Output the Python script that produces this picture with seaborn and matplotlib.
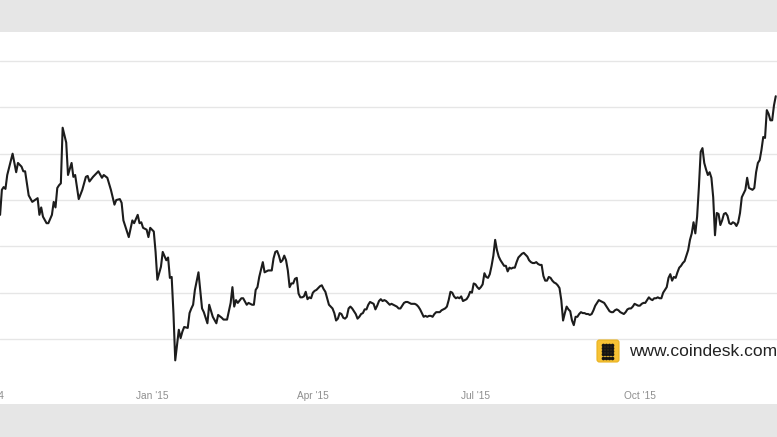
import numpy as np
import pandas as pd
import matplotlib
matplotlib.use("Agg")
import matplotlib.pyplot as plt
import matplotlib.transforms as mtransforms
from matplotlib.patches import FancyBboxPatch, Rectangle
import seaborn as sns

# ---------------- data ----------------
start_date = "2014-10-08"
day_offset = [
    0, 1, 2, 3, 4, 7, 9, 10, 12, 13, 14, 16, 18, 21, 22, 23, 24, 26, 27, 29,
    30, 31, 32, 33, 34, 35, 37, 38, 40, 41, 42, 44, 46, 48, 49, 50, 52, 54, 55, 57,
    58, 60, 62, 64, 65, 67, 68, 69, 72, 74, 75, 77, 78, 79, 80, 82, 83, 84, 86, 87,
    88, 90, 91, 93, 94, 95, 96, 97, 98, 100, 101, 102, 103, 105, 106, 107, 108, 109, 111, 112,
    113, 114, 116, 117, 119, 121, 122, 124, 125, 127, 129, 130, 131, 132, 133, 135, 136, 138, 139, 140,
    141, 142, 143, 144, 145, 147, 148, 149, 150, 151, 152, 153, 154, 155, 156, 157, 158, 159, 160, 161,
    162, 163, 164, 165, 166, 167, 168, 169, 170, 171, 172, 173, 174, 175, 176, 177, 178, 179, 180, 181,
    182, 183, 184, 185, 186, 187, 188, 189, 190, 191, 192, 193, 194, 195, 196, 197, 198, 199, 200, 201,
    202, 203, 204, 205, 206, 207, 208, 209, 210, 211, 212, 213, 214, 215, 216, 217, 218, 219, 220, 221,
    222, 223, 224, 225, 226, 227, 228, 229, 230, 231, 232, 233, 234, 235, 236, 237, 238, 239, 240, 241,
    242, 243, 244, 245, 246, 247, 248, 249, 250, 251, 252, 253, 254, 255, 256, 257, 258, 259, 260, 261,
    262, 263, 264, 265, 266, 267, 268, 269, 270, 271, 272, 273, 274, 275, 276, 277, 278, 279, 280, 281,
    282, 283, 284, 285, 286, 287, 288, 289, 290, 291, 292, 293, 294, 295, 296, 297, 298, 299, 300, 301,
    302, 303, 304, 305, 306, 307, 308, 309, 310, 311, 312, 313, 314, 315, 316, 317, 318, 319, 320, 321,
    322, 323, 324, 325, 326, 327, 328, 329, 330, 331, 332, 333, 334, 335, 336, 337, 338, 339, 340, 341,
    342, 343, 344, 345, 346, 347, 348, 349, 350, 351, 352, 353, 354, 355, 356, 357, 358, 359, 360, 361,
    362, 363, 364, 365, 366, 367, 368, 369, 370, 371, 372, 373, 374, 375, 376, 377, 378, 379, 380, 381,
    382, 383, 384, 385, 386, 387, 388, 389, 390, 391, 392, 393, 394, 395, 396, 397, 398, 399, 400, 401,
    402, 403, 404, 405, 406, 407, 408, 409, 410, 411, 412, 413, 414, 415, 416, 417, 418, 419, 420, 421,
    422, 423, 424, 425, 426, 427, 428, 429, 430, 431, 432, 433, 434,
]
price_usd = [
    334, 361, 364, 362, 377, 400, 380, 390, 386, 381, 381, 355, 348, 352, 334, 342, 332, 325, 325, 334,
    348, 342, 363, 366, 368, 428, 412, 377, 390, 375, 377, 351, 361, 375, 376, 370, 375, 379, 381, 374,
    377, 374, 361, 345, 350, 351, 347, 328, 310, 328, 325, 334, 325, 326, 320, 318, 310, 320, 316, 294,
    264, 278, 294, 285, 288, 266, 267, 228, 177, 210, 201, 208, 213, 212, 228, 233, 237, 253, 272, 253,
    233, 229, 217, 237, 224, 217, 226, 223, 221, 221, 239, 256, 235, 242, 239, 244, 244, 237, 239, 238,
    237, 237, 253, 256, 267, 283, 272, 273, 274, 274, 274, 287, 294, 295, 290, 283, 285, 290, 285, 274,
    256, 260, 260, 265, 266, 249, 245, 245, 246, 251, 243, 245, 244, 250, 252, 253, 255, 257, 258, 254,
    251, 244, 237, 235, 233, 228, 220, 222, 228, 227, 223, 222, 224, 233, 235, 233, 230, 227, 222, 224,
    227, 228, 232, 232, 237, 240, 239, 238, 232, 236, 241, 243, 241, 242, 241, 239, 237, 238, 237, 236,
    235, 233, 233, 236, 239, 240, 240, 239, 238, 238, 238, 237, 235, 232, 228, 224, 225, 224, 225, 225,
    224, 227, 229, 229, 229, 231, 232, 233, 235, 242, 251, 250, 246, 244, 245, 244, 246, 241, 242, 243,
    246, 251, 250, 260, 259, 256, 254, 256, 259, 271, 267, 266, 270, 279, 290, 307, 296, 289, 285, 282,
    279, 279, 273, 277, 276, 277, 277, 283, 288, 290, 292, 293, 291, 289, 285, 283, 282, 282, 283, 281,
    280, 280, 268, 263, 263, 267, 266, 263, 261, 260, 258, 255, 242, 220, 228, 235, 232, 230, 220, 215,
    224, 224, 227, 229, 228, 228, 227, 227, 226, 227, 231, 236, 239, 242, 241, 240, 239, 236, 233, 230,
    229, 229, 231, 232, 231, 229, 228, 227, 229, 232, 233, 233, 235, 238, 237, 236, 236, 238, 239, 239,
    242, 245, 243, 242, 244, 244, 245, 244, 244, 250, 253, 256, 266, 270, 263, 267, 266, 272, 277, 279,
    282, 284, 290, 296, 307, 314, 326, 314, 332, 364, 402, 406, 390, 383, 377, 380, 374, 353, 312, 336,
    335, 323, 328, 335, 336, 333, 325, 324, 326, 325, 322, 326, 336, 353, 357, 361, 374, 363, 362, 361,
    363, 380, 390, 393, 404, 418, 417, 447, 443, 436, 436, 452, 462,
]
tick_dates = ["2014-10-01", "2015-01-01", "2015-04-01", "2015-07-01", "2015-10-01"]
tick_labels = ["Oct '14", "Jan '15", "Apr '15", "Jul '15", "Oct '15"]
grid_values = [200, 250, 300, 350, 400, 450, 500]
brand_text = "www.coindesk.com"

# ---------------- figure ----------------
sns.set_theme(style="white")
plt.rcParams["font.family"] = ["Liberation Sans", "DejaVu Sans"]

W, H = 777, 437
fig = plt.figure(figsize=(W / 100, H / 100), dpi=100)
fig.patch.set_facecolor("white")

# grey bands top and bottom
fig.patches.append(Rectangle((0, 1 - 32 / H), 1, 32 / H, transform=fig.transFigure,
                             facecolor="#e6e6e6", edgecolor="none", zorder=0))
fig.patches.append(Rectangle((0, 0), 1, 33 / H, transform=fig.transFigure,
                             facecolor="#e6e6e6", edgecolor="none", zorder=0))

ax_top_px, ax_bot_px = 32, 380
ax = fig.add_axes([0, 1 - ax_bot_px / H, 1, (ax_bot_px - ax_top_px) / H])
ax.set_facecolor("none")

df = pd.DataFrame({
    "date": pd.Timestamp(start_date) + pd.to_timedelta(day_offset, unit="D"),
    "price": price_usd,
})
sns.lineplot(data=df, x="date", y="price", ax=ax, color="#1c1c1c", linewidth=1.5,
             zorder=3)

start = pd.Timestamp(start_date)
ax.set_xlim(start - pd.Timedelta(days=0.05), start + pd.Timedelta(days=434.7))
ax.set_ylim(155.8, 531.3)

ax.set_yticks(grid_values)
ax.yaxis.grid(True, color="#e6e6e6", linewidth=1.0)
ax.xaxis.grid(False)
ax.tick_params(axis="y", left=False, labelleft=False)

ticks = pd.to_datetime(tick_dates)
visible = [(t, l) for t, l in zip(ticks, tick_labels) if t >= start]
ax.set_xticks([t for t, _ in visible])
ax.set_xticklabels([l for _, l in visible])
ax.tick_params(axis="x", length=0, pad=8, labelsize=7.3, labelcolor="#8e8e8e")
# label of the tick that falls just left of the visible window (cut by the edge)
trans = mtransforms.blended_transform_factory(ax.transData, ax.transAxes)
ax.text(ticks[0], -16 / (ax_bot_px - ax_top_px), tick_labels[0], transform=trans,
        ha="center", va="center", fontsize=7.3, color="#8e8e8e", clip_on=False)

ax.set_xlabel("")
ax.set_ylabel("")
for s in ax.spines.values():
    s.set_visible(False)

# brand logo
lx, ly, ls = 596, 339, 24
lax = fig.add_axes([lx / W, 1 - (ly + ls) / H, ls / W, ls / H])
lax.set_xlim(0, 24)
lax.set_ylim(0, 24)
lax.axis("off")
lax.add_patch(FancyBboxPatch((1, 1), 22, 22, boxstyle="round,pad=0,rounding_size=2.5",
                             facecolor="#f7c234", edgecolor="#e9b21f", linewidth=0.8))
gx = np.array([6.5, 9.8, 13.1, 16.4])
gy = np.array([5.5, 8.7, 12, 15.3, 18.5])
XX, YY = np.meshgrid(gx, gy)
lax.scatter(XX.ravel(), YY.ravel(), s=7, color="#141414", linewidths=0)

fig.text(629 / W, 1 - 352 / H, brand_text, ha="left", va="center", fontsize=12.5,
         color="#222222")

fig.savefig("out.png", dpi=100)
